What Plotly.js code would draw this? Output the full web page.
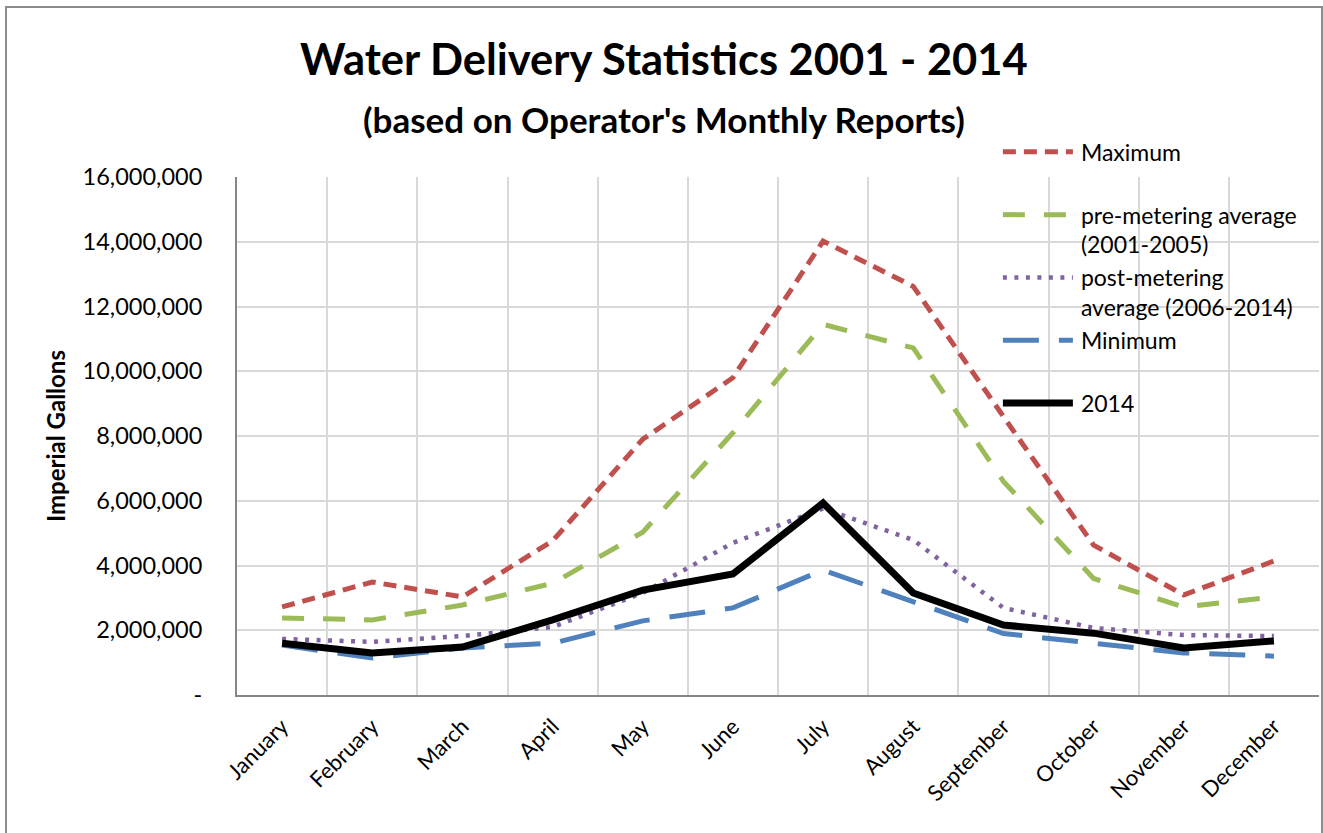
<!DOCTYPE html>
<html>
<head>
<meta charset="utf-8">
<script src="https://cdn.plot.ly/plotly-3.0.1.min.js"></script>
<style>
  body { margin: 0; background: #fff; }
  #chart { width: 1323px; height: 833px; position: absolute; left: 0; top: 0; }
  #frame { position: absolute; left: 5px; top: 6px; width: 1314px; height: 840px;
           border: 2px solid #8c8c8c; pointer-events: none; }
</style>
</head>
<body>
<div id="chart"></div>
<div id="frame"></div>
<script>
// monthly water delivery, imperial gallons
var months = ['January','February','March','April','May','June',
              'July','August','September','October','November','December'];

var maximum  = [2720000, 3490000, 3030000, 4760000, 7900000, 9800000,
                14020000, 12620000, 8600000, 4630000, 3090000, 4140000];
var preAvg   = [2380000, 2320000, 2780000, 3450000, 5030000, 8100000,
                11450000, 10720000, 6600000, 3600000, 2720000, 3030000];
var postAvg  = [1730000, 1640000, 1820000, 2100000, 3150000, 4700000,
                5760000, 4790000, 2690000, 2070000, 1850000, 1820000];
var minimum  = [1540000, 1140000, 1450000, 1600000, 2290000, 2690000,
                3860000, 2870000, 1900000, 1600000, 1300000, 1200000];
var y2014    = [1600000, 1300000, 1480000, 2320000, 3240000, 3740000,
                5930000, 3150000, 2160000, 1910000, 1450000, 1670000];

var yTicks = [0, 2000000, 4000000, 6000000, 8000000, 10000000, 12000000, 14000000, 16000000];
var yTickText = ['-', '2,000,000', '4,000,000', '6,000,000', '8,000,000',
                 '10,000,000', '12,000,000', '14,000,000', '16,000,000'];

var FONT = 'Lato, "Open Sans", sans-serif';

var traces = [
  { x: months, y: maximum, type: 'scatter', mode: 'lines',
    name: 'Maximum<br> ',
    line: { color: '#C0504D', width: 5, dash: '13px,8px' } },
  { x: months, y: preAvg, type: 'scatter', mode: 'lines',
    name: 'pre-metering average<br>(2001-2005)',
    line: { color: '#9BBB59', width: 5, dash: '22px,19px' } },
  { x: months, y: postAvg, type: 'scatter', mode: 'lines',
    name: 'post-metering<br>average (2006-2014)',
    line: { color: '#8064A2', width: 4.5, dash: '4px,7.5px' } },
  { x: months, y: minimum, type: 'scatter', mode: 'lines',
    name: 'Minimum<br> ',
    line: { color: '#4F81BD', width: 5, dash: '36px,20px' } },
  { x: months, y: y2014, type: 'scatter', mode: 'lines',
    name: '2014<br> ',
    line: { color: '#000000', width: 7 } }
];

var layout = {
  width: 1323,
  height: 833,
  margin: { l: 237, r: 4, t: 177, b: 138 },
  paper_bgcolor: '#ffffff',
  plot_bgcolor: '#ffffff',
  font: { family: FONT, color: '#000' },
  showlegend: true,
  legend: {
    x: 0.706, xanchor: 'left',
    y: 1.09, yanchor: 'top',
    bgcolor: 'rgba(0,0,0,0)',
    font: { family: FONT, size: 23, color: '#000' },
    valign: 'top',
    tracegroupgap: 0
  },
  xaxis: {
    type: 'category',
    range: [-0.5, 11.5],
    tickangle: -45,
    tickson: 'boundaries',
    ticks: '',
    ticklabelstandoff: 8,
    showgrid: true,
    gridcolor: '#d9d9d9',
    gridwidth: 2,
    showline: true,
    linecolor: '#868686',
    linewidth: 2,
    tickfont: { family: FONT, size: 22 },
    fixedrange: true
  },
  yaxis: {
    range: [0, 16000000],
    tickvals: yTicks,
    ticktext: yTickText,
    showgrid: true,
    gridcolor: '#d9d9d9',
    gridwidth: 2,
    zeroline: false,
    showline: true,
    linecolor: '#868686',
    linewidth: 2,
    ticklen: 0,
    ticklabelstandoff: 28,
    tickfont: { family: FONT, size: 23.5 },
    title: { text: '<b>Imperial Gallons</b>', font: { family: FONT, size: 24 }, standoff: 10 },
    fixedrange: true
  },
  annotations: [
    { text: '<b>Water Delivery Statistics 2001 - 2014</b>',
      xref: 'paper', yref: 'paper', x: (664 - 237) / 1082, y: (695 - 58) / 518,
      xanchor: 'center', yanchor: 'middle', showarrow: false,
      font: { family: FONT, size: 43.5 } },
    { text: "<b>(based on Operator's Monthly Reports)</b>",
      xref: 'paper', yref: 'paper', x: (664 - 237) / 1082, y: (695 - 119) / 518,
      xanchor: 'center', yanchor: 'middle', showarrow: false,
      font: { family: FONT, size: 35 } }
  ]
};

Plotly.newPlot('chart', traces, layout, { displayModeBar: false, staticPlot: true }).then(function (gd) {
  // stretch the legend line samples like the original (about 70px long)
  gd.querySelectorAll('.legend .legendlines path').forEach(function (p) {
    p.setAttribute('d', 'M2,0h70');
  });
  gd.querySelectorAll('.legend text.legendtext').forEach(function (t) {
    t.setAttribute('x', 80);
    t.querySelectorAll('tspan.line').forEach(function (s) { s.setAttribute('x', 80); });
  });
  // the shifted text runs past the legend box, so drop its clipping
  gd.querySelectorAll('.legend [clip-path], .legend .scrollbox').forEach(function (el) {
    el.removeAttribute('clip-path');
  });
});
</script>
</body>
</html>
